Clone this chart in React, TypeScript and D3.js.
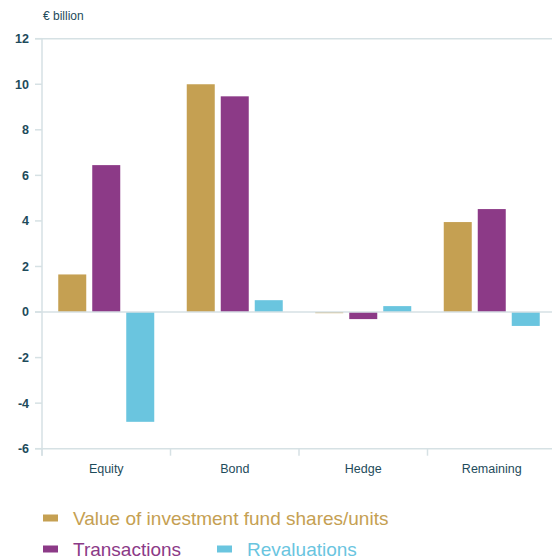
import React from 'react';
import { scaleLinear, scaleBand } from 'd3';

const categories = ['Equity', 'Bond', 'Hedge', 'Remaining'];
const seriesNames = ['Value of investment fund shares/units', 'Transactions', 'Revaluations'];
const valueShares = [1.65, 10.0, -0.05, 3.95];
const transactions = [6.45, 9.47, -0.31, 4.52];
const revaluations = [-4.82, 0.52, 0.26, -0.61];
const yTicks = [-6, -4, -2, 0, 2, 4, 6, 8, 10, 12];

const colors = ['#C5A052', '#8C3A87', '#6AC5DF'];
const textColor = '#1E4B5B';
const lineColor = '#D6E1E4';

const W = 552;
const H = 558;
const left = 42;
const right = 556;
const top = 38.7;
const bottom = 448.7;

const App = () => {
    const series = [valueShares, transactions, revaluations];

    // scales
    const x = scaleBand<string>().domain(categories).range([left, right]);
    const inner = scaleBand<number>()
        .domain([0, 1, 2])
        .range([0, 96])
        .paddingInner(6 / 34);
    const y = scaleLinear().domain([-6, 12]).range([bottom, top]);
    const groupOffset = (x.bandwidth() - 96) / 2;

    return (
        <svg width={W} height={H} style={{ display: 'block', position: 'absolute', left: 0, top: 0 }}>
            <rect width={W} height={H} fill="#fff" />
            <text x={43} y={20} fontFamily="Liberation Sans, Arial, sans-serif" fontSize={12} fill={textColor}>
                € billion
            </text>

            {/* bars */}
            {categories.map((c, ci) =>
                series.map((s, si) => {
                    const v = s[ci];
                    const y0 = y(0);
                    const y1 = y(v);
                    return (
                        <rect
                            key={c + si}
                            x={(x(c) as number) + groupOffset + (inner(si) as number)}
                            y={Math.min(y0, y1)}
                            width={inner.bandwidth()}
                            height={Math.max(Math.abs(y1 - y0), 1)}
                            fill={colors[si]}
                        />
                    );
                })
            )}

            {/* frame lines: top, zero, bottom */}
            {[12, 0, -6].map(t => (
                <line key={'g' + t} x1={35} x2={W} y1={y(t)} y2={y(t)} stroke={lineColor} strokeWidth={1.5} />
            ))}
            {/* y axis */}
            <line x1={left} x2={left} y1={top} y2={bottom + 7} stroke={lineColor} strokeWidth={1.5} />
            {yTicks.map(t => (
                <g key={t}>
                    <line x1={35} x2={left} y1={y(t)} y2={y(t)} stroke={lineColor} strokeWidth={1.5} />
                    <text
                        x={29}
                        y={y(t)}
                        dy="0.35em"
                        textAnchor="end"
                        fontFamily="Liberation Sans, Arial, sans-serif"
                        fontWeight="bold"
                        fontSize={12.5}
                        fill={textColor}
                    >
                        {t}
                    </text>
                </g>
            ))}

            {/* x axis */}
            {categories.map(c => (
                <g key={c}>
                    <line x1={x(c)} x2={x(c)} y1={bottom} y2={bottom + 7} stroke={lineColor} strokeWidth={1.5} />
                    <text
                        x={(x(c) as number) + x.bandwidth() / 2}
                        y={473}
                        textAnchor="middle"
                        fontFamily="Liberation Sans Narrow, Liberation Sans, Arial, sans-serif"
                        fontSize={12.5}
                        fill={textColor}
                    >
                        {c}
                    </text>
                </g>
            ))}

            {/* legend */}
            {[
                { i: 0, x: 43, y: 518 },
                { i: 1, x: 43, y: 549 },
                { i: 2, x: 217, y: 549 },
            ].map(l => (
                <g key={l.i}>
                    <rect x={l.x} y={l.y - 3.5} width={15} height={7} fill={colors[l.i]} />
                    <text
                        x={l.x + 30}
                        y={l.y}
                        dy="0.35em"
                        fontFamily="Liberation Sans, Arial, sans-serif"
                        fontSize={19}
                        fill={colors[l.i]}
                    >
                        {seriesNames[l.i]}
                    </text>
                </g>
            ))}
        </svg>
    );
};

export default App;
